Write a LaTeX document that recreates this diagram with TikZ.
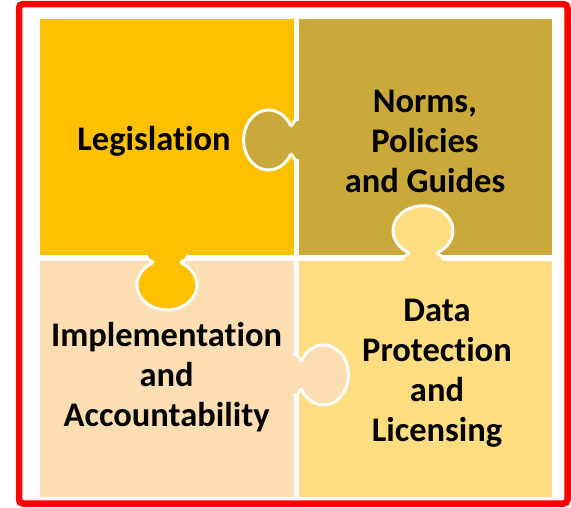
\documentclass[tikz,border=0pt]{standalone}
\usepackage{fontspec}
\setmainfont{Carlito}[RawFeature={-liga,-rlig,-clig,-dlig,-calt}]
\usepackage{xcolor}
\usetikzlibrary{positioning}

\definecolor{legisgold}{RGB}{255,192,0}
\definecolor{normsolive}{RGB}{203,168,58}
\definecolor{implpeach}{RGB}{252,222,178}
\definecolor{datayellow}{RGB}{255,221,128}

\begin{document}
\begin{tikzpicture}[
        x=1pt, y=-1pt,
        piece/.style={rectangle, minimum width=253.5pt, minimum height=236pt, inner sep=0pt, anchor=north west},
        piecetext/.style={align=center, text=black, font=\bfseries\fontsize{34.5}{40}\selectfont},
        knob/.pic={
            \fill[pic actions] (-4,-21) -- (0,-21) .. controls (6,-21) and (6.6,-11.4) .. (8.35,-15)
                arc[start angle=-150, end angle=150, x radius=25, y radius=30]
                .. controls (6.6,11.4) and (6,21) .. (0,21) -- (-4,21) -- cycle;
            \draw[white, line width=3pt, fill=none] (0,-21) .. controls (6,-21) and (6.6,-11.4) .. (8.35,-15)
                arc[start angle=-150, end angle=150, x radius=25, y radius=30]
                .. controls (6.6,11.4) and (6,21) .. (0,21);
        }
    ]
        \useasboundingbox (0,0) rectangle (571,507);
        \fill[white] (0,0) rectangle (571,507);

        % Pieces
        \node[piece, fill=legisgold] (legis) at (40,19) {};
        \node[piece, fill=normsolive] (norms) at (298.6,19) {};
        \node[piece, fill=implpeach] (impl) at (40,260.7) {};
        \node[piece, fill=datayellow] (data) at (298.6,260.7) {};

        % Knobs
        \pic[fill=normsolive, rotate=180] at (298.6,140) {knob};
        \pic[fill=datayellow, rotate=90] at (423,260.7) {knob};
        \pic[fill=legisgold, rotate=-90] at (167,255) {knob};
        \pic[fill=implpeach, rotate=0] at (293.5,375) {knob};

        % Texts
        \node[piecetext] (legistext) at (154,141) {Legislation};
        \node[piecetext] (normstext) at (425,141) {Norms,\\Policies\\and Guides};
        \node[piecetext] (impltext) at (166.6,377) {Implementation\\and\\Accountability};
        \node[piecetext] (datatext) at (437,373) {Data\\Protection\\and\\Licensing};

        % Frame
        \draw[red, line width=6.5pt, rounded corners=4pt] (19,4) rectangle (567.5,503.5);
    \end{tikzpicture}
\end{document}
